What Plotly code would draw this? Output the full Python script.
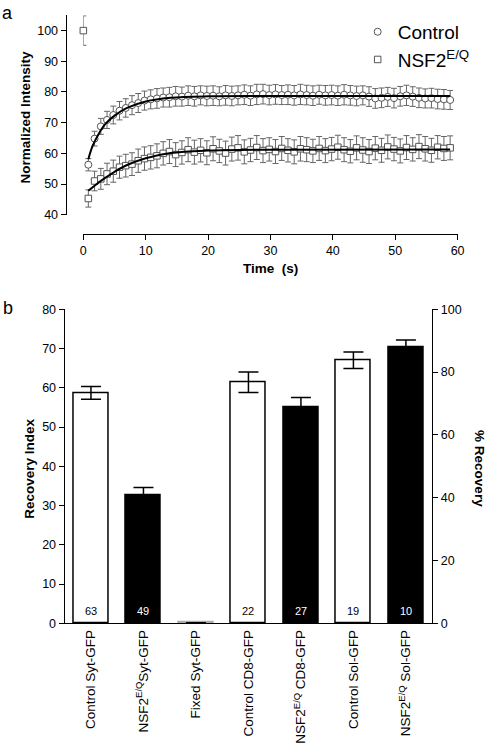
import plotly.graph_objects as go

# ---------------- Panel a data ----------------
ctrl_t = [0.8, 1.8, 2.8, 3.8, 4.8, 5.8, 6.8, 7.8, 8.8, 9.8,
          10.8, 11.8, 12.8, 13.8, 14.8, 15.8, 16.8, 17.8, 18.8, 19.8,
          20.8, 21.8, 22.8, 23.8, 24.8, 25.8, 26.8, 27.8, 28.8, 29.8,
          30.8, 31.8, 32.8, 33.8, 34.8, 35.8, 36.8, 37.8, 38.8, 39.8,
          40.8, 41.8, 42.8, 43.8, 44.8, 45.8, 46.8, 47.8, 48.8, 49.8,
          50.8, 51.8, 52.8, 53.8, 54.8, 55.8, 56.8, 57.8, 58.8]
ctrl_y = [56.3, 64.8, 68.8, 70.9, 72.5, 73.9, 74.8, 75.7, 76.4, 77.2,
          77.6, 77.9, 78.2, 78.3, 78.6, 78.5, 78.8, 78.6, 78.9, 78.7,
          78.8, 78.6, 78.9, 78.7, 78.9, 79.1, 78.8, 79.2, 79.3, 79.0,
          79.2, 79.0, 79.1, 78.9, 79.2, 79.0, 78.8, 79.1, 78.9, 79.0,
          78.8, 79.1, 78.9, 78.7, 78.9, 78.5, 77.9, 78.1, 78.4, 78.0,
          78.6, 78.9, 78.5, 78.1, 77.9, 78.0, 77.7, 77.6, 77.4]
ctrl_err = [2.0, 2.4, 2.6, 2.8, 2.9, 3.0, 3.0, 3.1, 3.1, 3.1,
            3.1, 3.2, 3.1, 3.2, 3.2, 3.1, 3.2, 3.2, 3.1, 3.2,
            3.2, 3.1, 3.2, 3.2, 3.1, 3.2, 3.2, 3.3, 3.2, 3.2,
            3.2, 3.1, 3.2, 3.2, 3.3, 3.2, 3.2, 3.1, 3.2, 3.2,
            3.2, 3.3, 3.2, 3.2, 3.1, 3.2, 3.2, 3.2, 3.1, 3.2,
            3.2, 3.3, 3.2, 3.2, 3.1, 3.2, 3.2, 3.2, 3.1]

nsf_t = [0.0, 0.8, 1.8, 2.8, 3.8, 4.8, 5.8, 6.8, 7.8, 8.8, 9.8,
         10.8, 11.8, 12.8, 13.8, 14.8, 15.8, 16.8, 17.8, 18.8, 19.8,
         20.8, 21.8, 22.8, 23.8, 24.8, 25.8, 26.8, 27.8, 28.8, 29.8,
         30.8, 31.8, 32.8, 33.8, 34.8, 35.8, 36.8, 37.8, 38.8, 39.8,
         40.8, 41.8, 42.8, 43.8, 44.8, 45.8, 46.8, 47.8, 48.8, 49.8,
         50.8, 51.8, 52.8, 53.8, 54.8, 55.8, 56.8, 57.8, 58.8]
nsf_y = [100.0, 45.3, 51.0, 51.7, 53.3, 54.2, 55.5, 56.0, 56.5, 57.6, 58.3,
         58.7, 59.2, 60.0, 60.6, 59.6, 60.3, 61.2, 60.4, 61.0, 60.2,
         61.5, 60.8, 60.1, 61.4, 61.8, 60.5, 61.1, 61.9, 60.9, 61.3,
         60.6, 61.6, 61.0, 60.5, 61.5, 61.2, 60.8, 61.6, 60.9, 61.4,
         62.0, 61.2, 60.7, 61.8, 61.1, 60.6, 61.7, 61.0, 62.1, 61.4,
         60.8, 61.9, 61.3, 62.2, 61.5, 61.0, 62.0, 61.6, 61.8]
nsf_err = [4.8, 2.8, 3.2, 3.4, 3.5, 3.6, 3.6, 3.7, 3.7, 3.8, 3.8,
           3.8, 3.9, 3.8, 3.9, 3.9, 3.8, 3.9, 3.9, 3.8, 3.9,
           3.9, 3.8, 3.9, 3.9, 4.0, 3.9, 3.8, 3.9, 3.9, 3.8,
           3.9, 3.9, 3.8, 3.9, 4.0, 3.9, 3.8, 3.9, 3.9, 3.8,
           3.9, 3.9, 3.8, 3.9, 4.0, 3.9, 3.8, 3.9, 3.9, 3.8,
           3.9, 3.9, 3.8, 3.9, 4.0, 3.9, 3.8, 3.9, 3.9]

# fitted curves
ctrl_fit_t = [0.8, 1.5, 2.5, 3.5, 5, 7, 10, 14, 20, 30, 58.8]
ctrl_fit_y = [58.1, 62.5, 66.5, 69.5, 72.3, 74.8, 76.9, 78.1, 78.6, 78.7, 78.7]
nsf_fit_t = [0.8, 2, 3.5, 5, 7, 10, 14, 20, 30, 58.8]
nsf_fit_y = [47.8, 49.8, 52.0, 54.0, 56.2, 58.4, 60.1, 60.9, 61.2, 61.3]

# ---------------- Panel b data ----------------
categories = ["Control Syt-GFP", "NSF2<sup>E/Q</sup>Syt-GFP", "Fixed Syt-GFP",
              "Control CD8-GFP", "NSF2<sup>E/Q</sup> CD8-GFP",
              "Control Sol-GFP", "NSF2<sup>E/Q</sup> Sol-GFP"]
recovery = [58.7, 32.6, 0.15, 61.4, 55.1, 67.0, 70.2]
recovery_err = [1.6, 2.0, 0.0, 2.6, 2.4, 2.1, 2.0]
n_cells = ["63", "49", "", "22", "27", "19", "10"]
fill_colors = ["white", "black", "white", "white", "black", "white", "black"]

FONT = "Arial, Liberation Sans, sans-serif"
W, H = 495, 753


def px_x(p):
    return p / W


def px_y(p):
    return 1 - p / H


fig = go.Figure()

GREY = "#555555"
fig.add_trace(go.Scatter(
    x=ctrl_t, y=ctrl_y, mode="markers", name="Control",
    marker=dict(symbol="circle", size=7, color="white", line=dict(color=GREY, width=1)),
    error_y=dict(type="data", array=ctrl_err, color="#666666", thickness=1, width=3),
    cliponaxis=False, xaxis="x", yaxis="y"))
fig.add_trace(go.Scatter(
    x=nsf_t, y=nsf_y, mode="markers", name="NSF2<sup>E/Q</sup>",
    marker=dict(symbol="square", size=6.5, color="white", line=dict(color=GREY, width=1)),
    error_y=dict(type="data", array=nsf_err, color="#666666", thickness=1, width=3),
    cliponaxis=False, xaxis="x", yaxis="y"))
fig.add_trace(go.Scatter(
    x=ctrl_fit_t, y=ctrl_fit_y, mode="lines", line=dict(color="black", width=2, shape="spline"),
    showlegend=False, xaxis="x", yaxis="y"))
fig.add_trace(go.Scatter(
    x=nsf_fit_t, y=nsf_fit_y, mode="lines", line=dict(color="black", width=2, shape="spline"),
    showlegend=False, xaxis="x", yaxis="y"))

# Panel b bars
xpos = list(range(len(categories)))
fig.add_trace(go.Bar(
    x=xpos, y=recovery, width=0.66,
    marker=dict(color=fill_colors, line=dict(color=["black", "black", "#aaaaaa", "black", "black", "black", "black"], width=1.5)),
    error_y=dict(type="data", array=recovery_err, color="black", thickness=1.5, width=10),
    showlegend=False, xaxis="x2", yaxis="y2"))
# invisible trace for right axis
fig.add_trace(go.Scatter(x=[0], y=[0], mode="markers", marker=dict(opacity=0),
                         showlegend=False, hoverinfo="skip", xaxis="x2", yaxis="y3"))

annotations = []
for i, n in enumerate(n_cells):
    if n:
        annotations.append(dict(x=i, y=3.1, xref="x2", yref="y2", text=n, showarrow=False,
                                font=dict(family=FONT, size=11,
                                          color="white" if fill_colors[i] == "black" else "black")))

tickfont = dict(family=FONT, size=12.5, color="black")
axis_common = dict(showline=True, linecolor="black", linewidth=1.3, ticks="outside", ticklen=5,
                   tickcolor="black", tickwidth=1.3, showgrid=False, zeroline=False, tickfont=tickfont)


def label(x, y, text, size=13.5, angle=0):
    return dict(x=px_x(x), y=px_y(y), xref="paper", yref="paper", text=text, showarrow=False,
                xanchor="center", yanchor="middle", textangle=angle,
                font=dict(family=FONT, size=size, color="black"))


fig.update_layout(
    width=W, height=H, margin=dict(l=0, r=0, t=0, b=0),
    paper_bgcolor="white", plot_bgcolor="white",
    font=dict(family=FONT, color="black"),
    bargap=0,
    xaxis=dict(domain=[px_x(82), px_x(464)], range=[0, 60], dtick=10, anchor="free",
               position=px_y(231), **axis_common),
    yaxis=dict(domain=[px_y(211.7), px_y(8.4)], range=[40, 105], tickvals=[40, 50, 60, 70, 80, 90, 100],
               anchor="free", position=px_x(64), **axis_common),
    xaxis2=dict(domain=[px_x(63), px_x(438)], range=[-0.5, 6.5], tickvals=xpos, ticktext=categories,
                tickangle=-90, anchor="y2", showline=True, linecolor="black", linewidth=1.3,
                ticks="", showgrid=False, zeroline=False,
                tickfont=dict(family=FONT, size=13.5, color="black")),
    yaxis2=dict(domain=[px_y(628), px_y(308)], range=[0, 80], dtick=10, anchor="x2", **axis_common),
    yaxis3=dict(range=[0, 100], dtick=20, overlaying="y2", side="right", anchor="x2", **axis_common),
    legend=dict(x=px_x(362), y=px_y(6), xanchor="left", yanchor="top",
                font=dict(family=FONT, size=19, color="black"), bgcolor="rgba(0,0,0,0)",
                itemwidth=30, tracegroupgap=0),
    annotations=annotations + [
        label(5, 6, "a", 18),
        label(5, 307, "b", 18),
        label(23, 112, "<b>Normalized Intensity</b>", 13.5, -90),
        label(273, 266, "<b>Time  (s)</b>", 13.5),
        label(27, 470, "<b>Recovery Index</b>", 13.5, -90),
        label(487, 470, "<b>% Recovery</b>", 13.5, 90),
    ],
)

fig.write_html("out.html", config={"displayModeBar": False},
               post_script="document.body.style.margin='0';document.body.style.overflow='hidden';")
